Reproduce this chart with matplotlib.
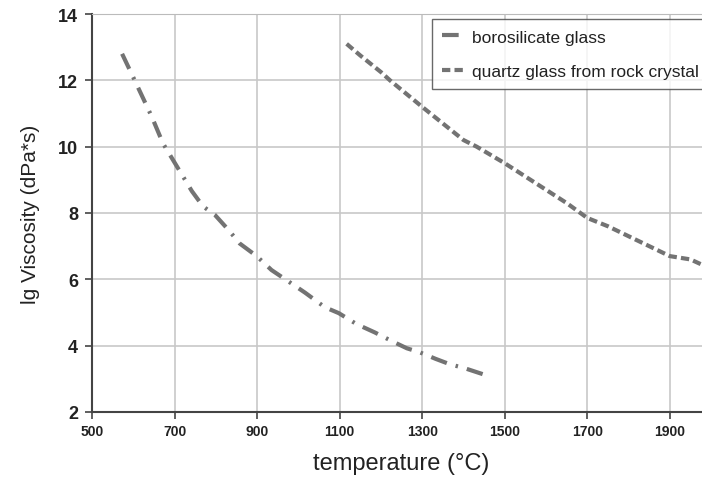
import matplotlib
matplotlib.use('Agg')
import matplotlib.pyplot as plt

plt.rcParams['font.family'] = ['Liberation Sans', 'DejaVu Sans']

boro_t = [573, 602, 645, 672, 689, 742, 769, 798, 830, 858, 899, 935, 1016,
          1064, 1098, 1141, 1185, 1226, 1263, 1294, 1333, 1367, 1403, 1447]
boro_v = [12.8, 12.04, 10.9, 10.1, 9.75, 8.66, 8.2, 7.94, 7.5, 7.08, 6.7, 6.28,
          5.6, 5.16, 4.98, 4.65, 4.4, 4.14, 3.92, 3.8, 3.6, 3.44, 3.32, 3.14]

quartz_t = [1117, 1150, 1200, 1222, 1300, 1350, 1400, 1432, 1500, 1550, 1600,
            1650, 1700, 1750, 1800, 1850, 1900, 1950, 1985]
quartz_v = [13.1, 12.75, 12.25, 12.0, 11.2, 10.7, 10.2, 10.0, 9.5, 9.1, 8.7,
            8.3, 7.85, 7.6, 7.3, 7.0, 6.7, 6.6, 6.4]

xticks = [500, 700, 900, 1100, 1300, 1500, 1700, 1900]
yticks = [2, 4, 6, 8, 10, 12, 14]

fig = plt.figure(figsize=(7.02, 4.81), dpi=100)
ax = fig.add_axes([0.131, 0.1414, 0.882, 0.8274])

col = '#737373'
ax.plot(boro_t, boro_v, color=col, lw=3, dashes=(4, 2.2, 0.6, 2.2),
        label='borosilicate glass')
ax.plot(quartz_t, quartz_v, color=col, lw=3, dashes=(2.0, 1.0),
        label='quartz glass from rock crystal')

ax.set_xlim(500, 2000)
ax.set_ylim(2, 14)
ax.set_xticks(xticks)
ax.set_yticks(yticks)
ax.set_xticklabels([str(t) for t in xticks], fontsize=10, fontweight='bold', color='#222222')
ax.set_yticklabels([str(t) for t in yticks], fontsize=13, fontweight='bold', color='#222222')
ax.grid(True, color='#c8c8c8', lw=1.2)
ax.set_axisbelow(True)
ax.tick_params(direction='out', length=5, width=1.2, color='#444444')
ax.tick_params(axis='y', pad=5)

ax.spines['right'].set_visible(False)
ax.spines['top'].set_color('#bbbbbb')
ax.spines['left'].set_color('#444444')
ax.spines['bottom'].set_color('#444444')
ax.spines['left'].set_linewidth(1.5)
ax.spines['bottom'].set_linewidth(1.5)

ax.set_xlabel('temperature (°C)', fontsize=17, color='#222222', labelpad=10)
ax.set_ylabel('lg Viscosity (dPa*s)', fontsize=15, color='#222222', labelpad=13)

leg = ax.legend(loc='upper left', bbox_to_anchor=(1323, 13.85),
                bbox_transform=ax.transData, fontsize=12.5, frameon=True,
                fancybox=False, edgecolor='#444444', handlelength=1.3,
                handletextpad=0.4, borderaxespad=0, borderpad=0.6,
                labelspacing=1.1)
leg.get_frame().set_linewidth(1.0)
for t in leg.get_texts():
    t.set_color('#222222')

fig.savefig('out.png', dpi=100)
